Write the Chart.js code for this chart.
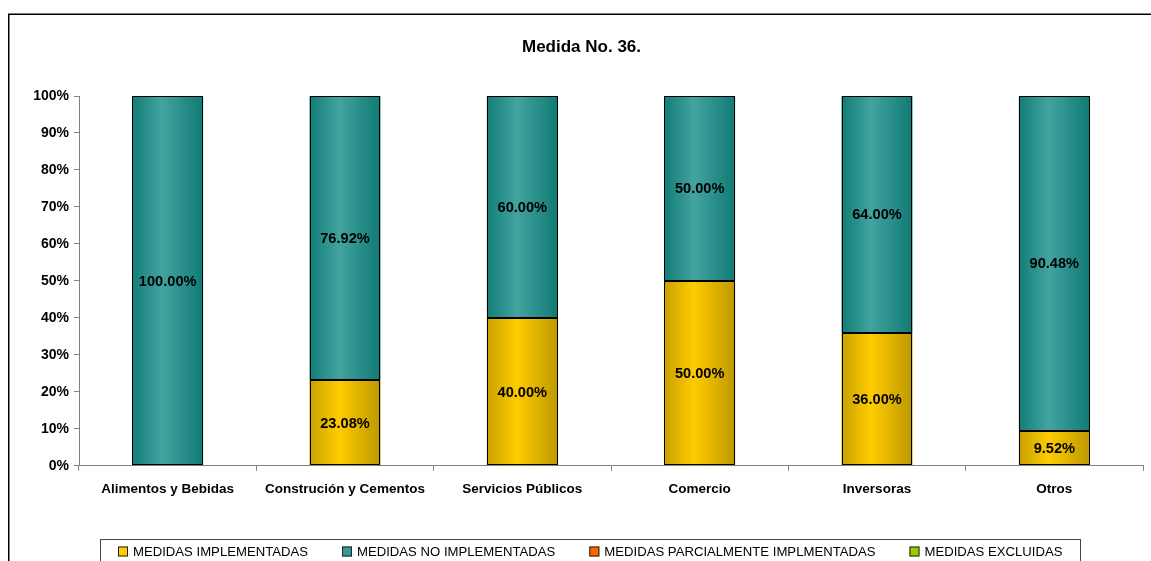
<!DOCTYPE html>
<html>
<head>
<meta charset="utf-8">
<title>Medida No. 36.</title>
<script src="https://cdn.jsdelivr.net/npm/chart.js@4.4.1/dist/chart.umd.min.js"></script>
<style>
    html, body { margin: 0; padding: 0; background: #fff; overflow: hidden; }
    #wrap { position: relative; width: 1151px; height: 561px; }
</style>
</head>
<body>
<div id="wrap"><canvas id="medidaChart" width="1151" height="561"></canvas></div>
<script>
// chart data
const categories = ["Alimentos y Bebidas", "Construción y Cementos", "Servicios Públicos", "Comercio", "Inversoras", "Otros"];
const implementadas = [0, 23.08, 40.00, 50.00, 36.00, 9.52];
const noImplementadas = [100.00, 76.92, 60.00, 50.00, 64.00, 90.48];
const parcialmente = [0, 0, 0, 0, 0, 0];
const excluidas = [0, 0, 0, 0, 0, 0];
const seriesNames = ["MEDIDAS IMPLEMENTADAS", "MEDIDAS NO IMPLEMENTADAS", "MEDIDAS PARCIALMENTE IMPLMENTADAS", "MEDIDAS EXCLUIDAS"];
const yTickValues = [0, 10, 20, 30, 40, 50, 60, 70, 80, 90, 100];

const FONT = '"Liberation Sans", Arial, Helvetica, sans-serif';
const BAR_PCT = 0.4;

// horizontal "cylinder" gradient across each bar
function barGradient(dark, light, darkRight) {
    return function (ctx) {
        const chart = ctx.chart;
        const xScale = chart.scales.x;
        if (!chart.chartArea || !xScale || ctx.type !== "data") return light;
        const cx = xScale.getPixelForValue(ctx.dataIndex);
        const half = xScale.width / categories.length * BAR_PCT / 2;
        const g = chart.ctx.createLinearGradient(cx - half, 0, cx + half, 0);
        g.addColorStop(0, dark);
        g.addColorStop(0.42, light);
        g.addColorStop(1, darkRight);
        return g;
    };
}

/*=========================================
PLUGINS
=========================================*/
// crisp 1px outlines + value labels on each segment
const barOutlinesAndLabels = {
    id: "barOutlinesAndLabels",
    afterDatasetsDraw(chart) {
        const c = chart.ctx;
        c.save();

        c.strokeStyle = "#000";
        c.lineWidth = 1;
        chart.data.datasets.forEach((ds, i) => {
            const meta = chart.getDatasetMeta(i);
            meta.data.forEach((bar, j) => {
                if (!ds.data[j]) return;
                const p = bar.getProps(["x", "y", "base", "width"], true);
                const l = Math.round(p.x - p.width / 2) + 0.5;
                const r = Math.round(p.x + p.width / 2) - 0.5;
                const t = Math.round(p.y) + 0.5;
                const b = Math.round(p.base) - 0.5;
                c.strokeRect(l, t, r - l, b - t);
            });
        });

        c.font = "bold 14.6px " + FONT;
        c.fillStyle = "#000";
        c.textAlign = "center";
        c.textBaseline = "middle";
        chart.data.datasets.forEach((ds, i) => {
            const meta = chart.getDatasetMeta(i);
            meta.data.forEach((bar, j) => {
                const v = ds.data[j];
                if (!v) return;
                const p = bar.getProps(["x", "y", "base"], true);
                c.fillText(v.toFixed(2) + "%", p.x, (p.y + p.base) / 2 + 1);
            });
        });
        c.restore();
    }
};

const frameAndLegend = {
    id: "frameAndLegend",
    beforeDraw(chart) {
        const c = chart.ctx;
        c.save();
        c.fillStyle = "#fff";
        c.fillRect(0, 0, chart.width, chart.height);
        c.restore();
    },
    afterDraw(chart) {
        const c = chart.ctx;
        c.save();

        // outer chart frame
        c.strokeStyle = "#000";
        c.lineWidth = 1.5;
        c.beginPath();
        c.moveTo(8.75, chart.height + 2);
        c.lineTo(8.75, 14.25);
        c.lineTo(chart.width + 2, 14.25);
        c.stroke();

        // legend
        c.font = "13.15px " + FONT;
        c.textBaseline = "middle";
        c.textAlign = "left";
        let x = 118;
        const y = 551.5;
        chart.data.datasets.forEach((ds) => {
            c.fillStyle = ds.legendColor;
            c.fillRect(x, y - 5, 10, 10);
            c.strokeStyle = "#222";
            c.lineWidth = 1;
            c.strokeRect(x + 0.5, y - 4.5, 9, 9);
            c.fillStyle = "#000";
            c.fillText(ds.label, x + 15, y + 0.5);
            x += 15 + c.measureText(ds.label).width + 34;
        });
        c.strokeStyle = "#444";
        c.lineWidth = 1;
        c.strokeRect(100.5, 539.5, 980, 40);

        c.restore();
    }
};

/*=========================================
CHART
=========================================*/
document.addEventListener("DOMContentLoaded", function () {

    const canvas = document.getElementById("medidaChart");

    const common = {
        borderWidth: 0,
        inflateAmount: 0,
        barPercentage: BAR_PCT,
        categoryPercentage: 1.0
    };

    new Chart(canvas, {
        type: "bar",
        data: {
            labels: categories,
            datasets: [
                Object.assign({
                    label: seriesNames[0],
                    data: implementadas,
                    legendColor: "#ffcc00",
                    backgroundColor: barGradient("#c9a100", "#ffcc00", "#bd9800")
                }, common),
                Object.assign({
                    label: seriesNames[1],
                    data: noImplementadas,
                    legendColor: "#339999",
                    backgroundColor: barGradient("#127d78", "#43a39f", "#107a75")
                }, common),
                Object.assign({
                    label: seriesNames[2],
                    data: parcialmente,
                    legendColor: "#ff6600",
                    backgroundColor: "#ff6600"
                }, common),
                Object.assign({
                    label: seriesNames[3],
                    data: excluidas,
                    legendColor: "#99cc00",
                    backgroundColor: "#99cc00"
                }, common)
            ]
        },
        options: {
            responsive: false,
            animation: false,
            layout: {
                padding: { left: 20, right: 8, top: 0, bottom: 54 }
            },
            plugins: {
                legend: { display: false },
                tooltip: { enabled: false },
                title: {
                    display: true,
                    text: "Medida No. 36.",
                    color: "#000",
                    font: { family: FONT, size: 17, weight: "bold", lineHeight: 1.2 },
                    padding: { top: 36.8, bottom: 38.8 }
                }
            },
            scales: {
                x: {
                    stacked: true,
                    offset: true,
                    grid: {
                        display: true,
                        offset: true,
                        drawOnChartArea: false,
                        drawTicks: true,
                        tickLength: 5,
                        color: "#808080"
                    },
                    border: { display: true, color: "#808080", width: 1 },
                    ticks: {
                        color: "#000",
                        padding: 10,
                        maxRotation: 0,
                        autoSkip: false,
                        font: { family: FONT, size: 13.5, weight: "bold", lineHeight: 1.2 }
                    }
                },
                y: {
                    stacked: true,
                    min: 0,
                    max: 100,
                    afterBuildTicks(scale) {
                        scale.ticks = yTickValues.map(v => ({ value: v }));
                    },
                    afterFit(scale) {
                        scale.width = 59;
                    },
                    grid: {
                        display: true,
                        drawOnChartArea: false,
                        drawTicks: true,
                        tickLength: 5,
                        color: "#808080"
                    },
                    border: { display: true, color: "#808080", width: 1 },
                    ticks: {
                        color: "#000",
                        padding: 5,
                        font: { family: FONT, size: 14, weight: "bold" },
                        callback: v => v + "%"
                    }
                }
            }
        },
        plugins: [barOutlinesAndLabels, frameAndLegend]
    });

});
</script>
</body>
</html>
